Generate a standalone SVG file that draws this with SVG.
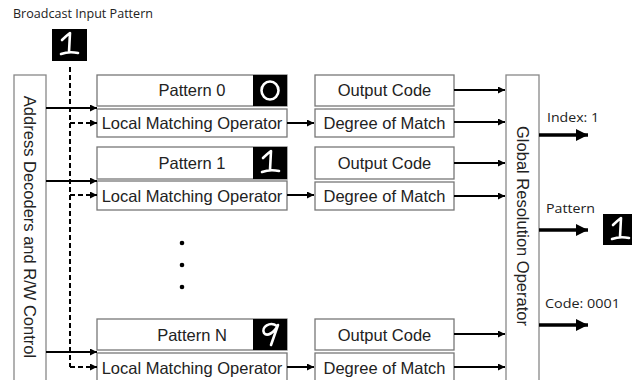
<svg xmlns="http://www.w3.org/2000/svg" width="632" height="380" viewBox="0 0 632 380">
<style>
.box{fill:#fff;stroke:#777;stroke-width:1.3}
.big{fill:#fff;stroke:#888;stroke-width:1.3}
.t{font-family:"Liberation Sans",Arial,sans-serif;font-size:16.5px;fill:#222;text-anchor:middle}
.c{font-family:"Open Sans","Noto Sans",sans-serif;font-size:13px;fill:#222}
.ln{stroke:#000;stroke-width:2;fill:none}
.dl{stroke:#000;stroke-width:2;fill:none;stroke-dasharray:5 3}
.th{stroke:#000;stroke-width:3.5;fill:none}
.img{fill:#000}
.dg{stroke:#fff;stroke-width:2.6;fill:none;stroke-linecap:round;stroke-linejoin:round}
</style>
<defs>
<marker id="a" viewBox="0 0 10 10" refX="10" refY="5" markerWidth="8" markerHeight="7" markerUnits="userSpaceOnUse" orient="auto"><path d="M0,0 L10,5 L0,10 z" fill="#000"/></marker>
<marker id="b" viewBox="0 0 10 10" refX="10" refY="5" markerWidth="12" markerHeight="12" markerUnits="userSpaceOnUse" orient="auto"><path d="M0,0 L10,5 L0,10 z" fill="#000"/></marker>
</defs>
<rect width="632" height="380" fill="#fff"/>

<text class="c" x="13" y="18" textLength="140" lengthAdjust="spacingAndGlyphs">Broadcast Input Pattern</text>

<g id="input-pattern">
<rect class="img" x="52" y="29" width="35" height="32"/>
<path class="dg" d="M62,40 Q66,36 70,33 L69,52 M61,54 Q69,51 78,53"/>
</g>

<g id="address-decoders">
<rect class="big" x="14" y="75" width="32" height="310"/>
<text class="t" transform="translate(30,227) rotate(90)" y="6">Address Decoders and R/W Control</text>
</g>

<g id="global-resolution">
<rect class="big" x="506" y="75" width="33" height="310"/>
<text class="t" transform="translate(523,226) rotate(90)" y="6">Global Resolution Operator</text>
</g>

<g id="pattern0">
<rect class="box" x="97" y="75" width="190" height="31"/>
<text class="t" x="192" y="96">Pattern 0</text>
<rect class="img" x="253" y="75" width="34" height="31"/>
<ellipse cx="270" cy="90.5" rx="8.5" ry="9" class="dg" stroke-width="3"/>
</g>
<g id="lmo0">
<rect class="box" x="97" y="109" width="190" height="28"/>
<text class="t" x="192" y="129">Local Matching Operator</text>
</g>
<g id="oc0">
<rect class="box" x="315" y="75" width="139" height="31"/>
<text class="t" x="384.5" y="96">Output Code</text>
</g>
<g id="dom0">
<rect class="box" x="315" y="109" width="139" height="28"/>
<text class="t" x="384.5" y="129">Degree of Match</text>
</g>

<g id="pattern1">
<rect class="box" x="97" y="147" width="190" height="32"/>
<text class="t" x="192" y="169">Pattern 1</text>
<rect class="img" x="253" y="147" width="34" height="32"/>
<path class="dg" d="M263,158 Q267,154 271,151 L270,170 M262,172 Q270,169 279,171"/>
</g>
<g id="lmo1">
<rect class="box" x="97" y="181" width="190" height="29"/>
<text class="t" x="192" y="202">Local Matching Operator</text>
</g>
<g id="oc1">
<rect class="box" x="315" y="147" width="139" height="32"/>
<text class="t" x="384.5" y="169">Output Code</text>
</g>
<g id="dom1">
<rect class="box" x="315" y="182" width="139" height="28"/>
<text class="t" x="384.5" y="202">Degree of Match</text>
</g>

<g id="ellipsis">
<circle cx="182" cy="243" r="2.3" fill="#000"/>
<circle cx="182" cy="265" r="2.3" fill="#000"/>
<circle cx="182" cy="287" r="2.3" fill="#000"/>
</g>

<g id="patternN">
<rect class="box" x="97" y="319" width="190" height="31"/>
<text class="t" x="192" y="341">Pattern N</text>
<rect class="img" x="253" y="319" width="34" height="31"/>
<path class="dg" d="M277,326 C270,321 261,327 264,333 C267,337 274,333 278,325 L271,345"/>
</g>
<g id="lmoN">
<rect class="box" x="97" y="353" width="190" height="29"/>
<text class="t" x="192" y="374">Local Matching Operator</text>
</g>
<g id="ocN">
<rect class="box" x="315" y="319" width="139" height="31"/>
<text class="t" x="384.5" y="341">Output Code</text>
</g>
<g id="domN">
<rect class="box" x="315" y="353" width="139" height="29"/>
<text class="t" x="384.5" y="374">Degree of Match</text>
</g>

<g id="outputs">
<text class="c" x="547" y="122" textLength="52" lengthAdjust="spacingAndGlyphs">Index: 1</text>
<text class="c" x="546" y="213" textLength="49" lengthAdjust="spacingAndGlyphs">Pattern</text>
<text class="c" x="545" y="308" textLength="75" lengthAdjust="spacingAndGlyphs">Code: 0001</text>
<rect class="img" x="603" y="214" width="34" height="31"/>
<path class="dg" d="M613,225 Q617,221 621,218 L620,237 M612,239 Q620,236 629,238"/>
</g>

<g id="connectors">
<path class="dl" d="M70,67 V367"/>
<path class="ln" d="M46,108 H97" marker-end="url(#a)"/>
<path class="ln" d="M46,181 H97" marker-end="url(#a)"/>
<path class="ln" d="M46,352 H97" marker-end="url(#a)"/>
<path class="dl" d="M70,123 H97" marker-end="url(#a)"/>
<path class="dl" d="M70,195 H97" marker-end="url(#a)"/>
<path class="dl" d="M70,367 H97" marker-end="url(#a)"/>
<path class="ln" d="M287,123 H314" marker-end="url(#a)"/>
<path class="ln" d="M287,195 H314" marker-end="url(#a)"/>
<path class="ln" d="M287,367 H314" marker-end="url(#a)"/>
<path class="ln" d="M454,90 H505" marker-end="url(#a)"/>
<path class="ln" d="M454,122 H505" marker-end="url(#a)"/>
<path class="ln" d="M454,163 H505" marker-end="url(#a)"/>
<path class="ln" d="M454,196 H505" marker-end="url(#a)"/>
<path class="ln" d="M454,334 H505" marker-end="url(#a)"/>
<path class="ln" d="M454,367 H505" marker-end="url(#a)"/>
<path class="th" d="M539,135 H588" marker-end="url(#b)"/>
<path class="th" d="M539,230 H588" marker-end="url(#b)"/>
<path class="th" d="M539,325 H588" marker-end="url(#b)"/>
</g>
</svg>
